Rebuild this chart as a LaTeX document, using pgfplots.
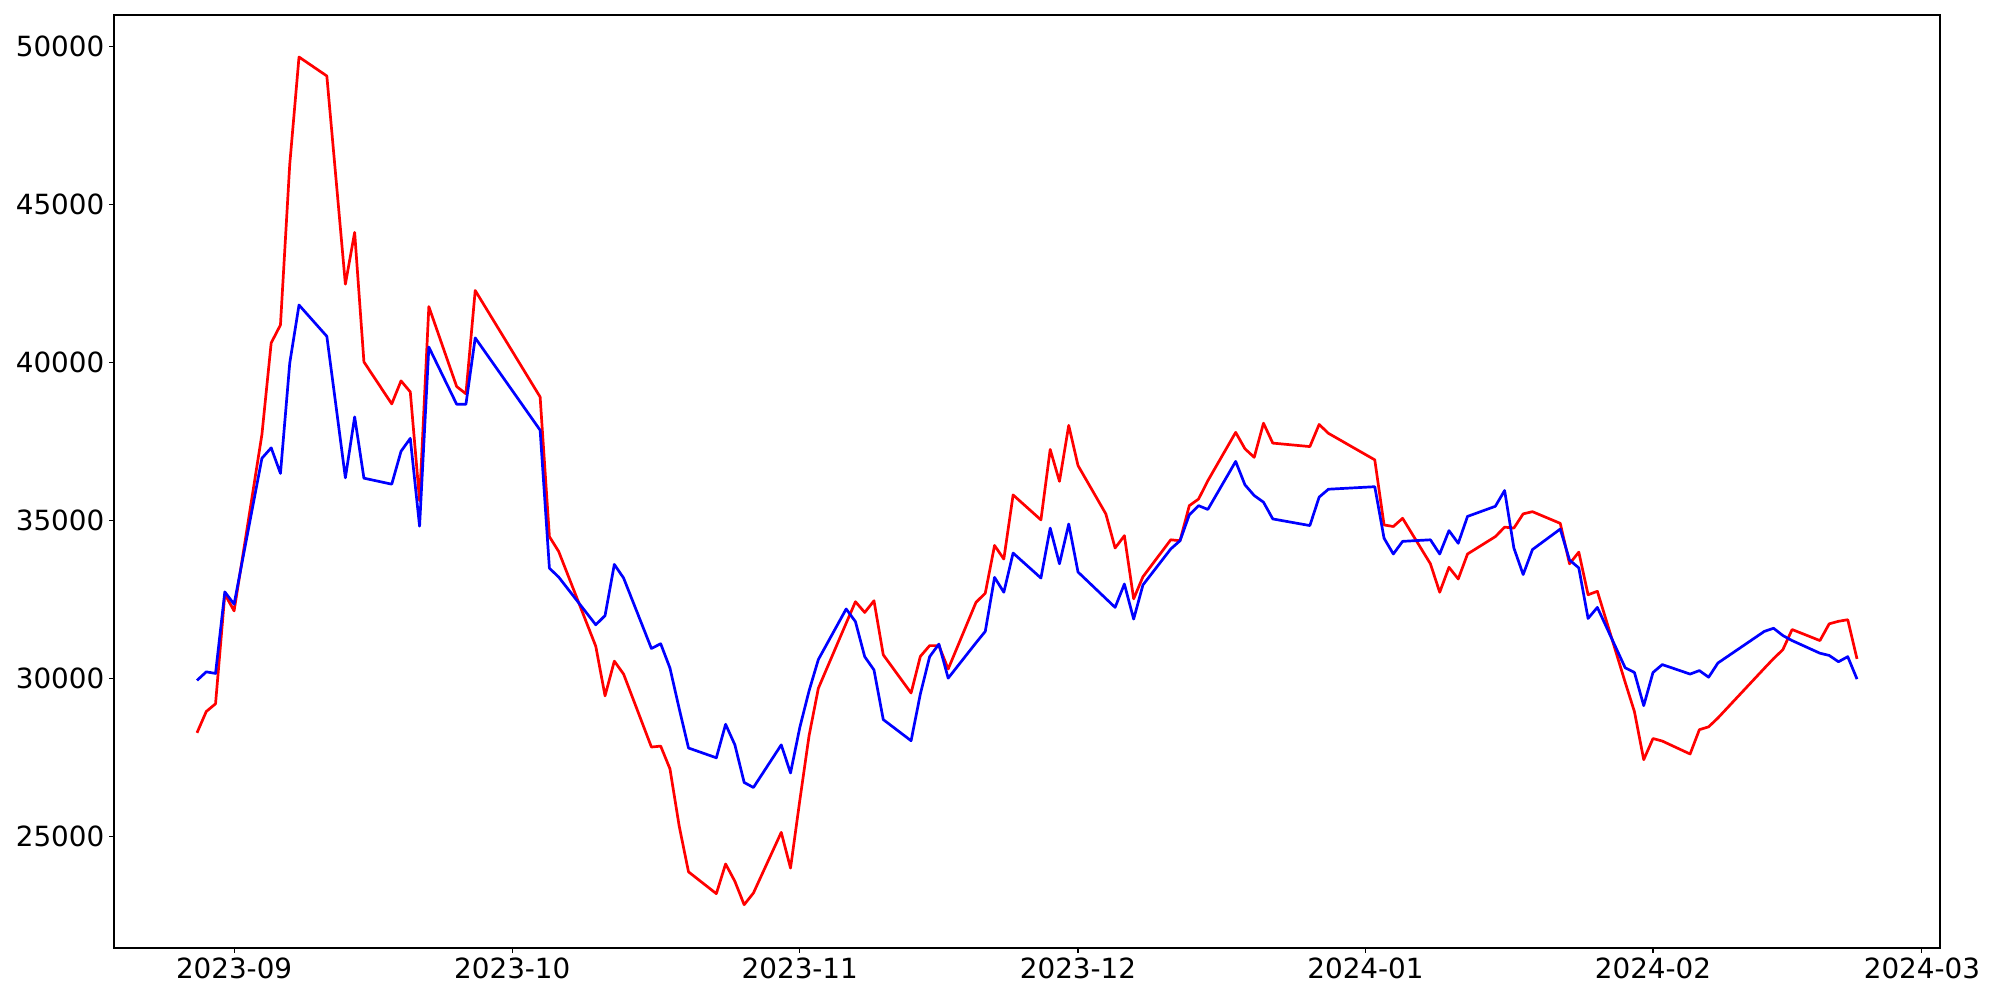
\documentclass[border=0pt]{standalone}
\usepackage{fontspec}
\setmainfont{DejaVu Sans}
\usepackage{pgfplots}
\pgfplotsset{compat=1.18}
\usepackage{pgfplotstable}
\pgfplotstableread{
d red blue
-4 28270 29930
-3 28945 30200
-2 29190 30150
-1 32660 32730
0 32130 32340
3 37710 36960
4 40610 37290
5 41180 36480
6 46260 39970
7 49660 41810
10 49060 40820
11 45770 38590
12 42470 36340
13 44110 38270
14 40010 36330
17 38680 36140
18 39410 37180
19 39060 37590
20 35620 34810
21 41760 40480
24 39230 38670
25 39000 38670
26 42270 40770
33 38900 37850
34 34480 33480
35 34010 33200
39 31010 31690
40 29440 31980
41 30540 33600
42 30130 33170
45 27820 30940
46 27850 31090
47 27130 30320
48 25310 29030
49 23870 27790
52 23180 27480
53 24120 28540
54 23570 27890
55 22830 26700
56 23200 26540
59 25120 27890
60 23990 27000
61 26130 28440
62 28180 29600
63 29680 30590
66 31740 32190
67 32420 31790
68 32080 30680
69 32450 30260
70 30740 28690
73 29530 28020
74 30690 29500
75 31030 30680
76 31030 31080
77 30290 30000
80 32400 31120
81 32690 31480
82 34200 33190
83 33770 32720
84 35800 33960
87 35010 33170
88 37240 34750
89 36230 33620
90 38000 34880
91 36730 33360
94 35200 32520
95 34120 32240
96 34510 32980
97 32510 31870
98 33210 32950
101 34380 34090
102 34350 34350
103 35460 35170
104 35670 35460
105 36250 35340
108 37780 36860
109 37260 36120
110 36990 35780
111 38070 35570
112 37440 35040
116 37330 34830
117 38030 35730
118 37750 35980
123 36910 36060
124 34850 34430
125 34800 33930
126 35060 34330
129 33620 34380
130 32720 33930
131 33510 34670
132 33140 34270
133 33930 35120
136 34480 35440
137 34780 35940
138 34750 34120
139 35200 33280
140 35270 34070
143 34900 34720
144 33620 33740
145 33990 33490
146 32640 31890
147 32750 32240
150 29870 30330
151 28940 30180
152 27420 29130
153 28090 30180
154 28010 30430
157 27600 30130
158 28370 30240
159 28460 30030
160 28740 30480
165 30310 31480
166 30620 31580
167 30900 31350
168 31540 31190
171 31190 30790
172 31720 30720
173 31800 30520
174 31850 30680
175 30610 29970
}\datatable
\begin{document}
\begin{tikzpicture}
\begin{axis}[
  name=ax,
  scale only axis,
  width=913pt, height=466.5pt,
  xmin=-12.95, xmax=183.95,
  ymin=21460, ymax=50990,
  axis line style={black, line width=0.55pt},
  tick style={black, line width=0.55pt},
  tick align=outside,
  major tick length=2.45pt,
  xtick pos=bottom, ytick pos=left,
  xtick={0,30,61,91,122,153,182},
  xticklabels={2023-09,2023-10,2023-11,2023-12,2024-01,2024-02,2024-03},
  ytick={25000,30000,35000,40000,45000,50000},
  yticklabels={25000,30000,35000,40000,45000,50000},
  tick label style={font=\fontsize{13.9pt}{16pt}\selectfont},
  xticklabel style={inner sep=2.2pt},
  yticklabel style={inner sep=2.2pt},
  minor tick num=0,
  grid=none,
]
\addplot[red, line width=1.35pt, line join=round, mark=none] table[x=d,y=red]{\datatable};
\addplot[blue, line width=1.35pt, line join=round, mark=none] table[x=d,y=blue]{\datatable};
\end{axis}
\pgfresetboundingbox
\path[use as bounding box] ([shift={(-57pt,-26pt)}]ax.south west) rectangle ([shift={(30pt,7.5pt)}]ax.north east);
\end{tikzpicture}
\end{document}
